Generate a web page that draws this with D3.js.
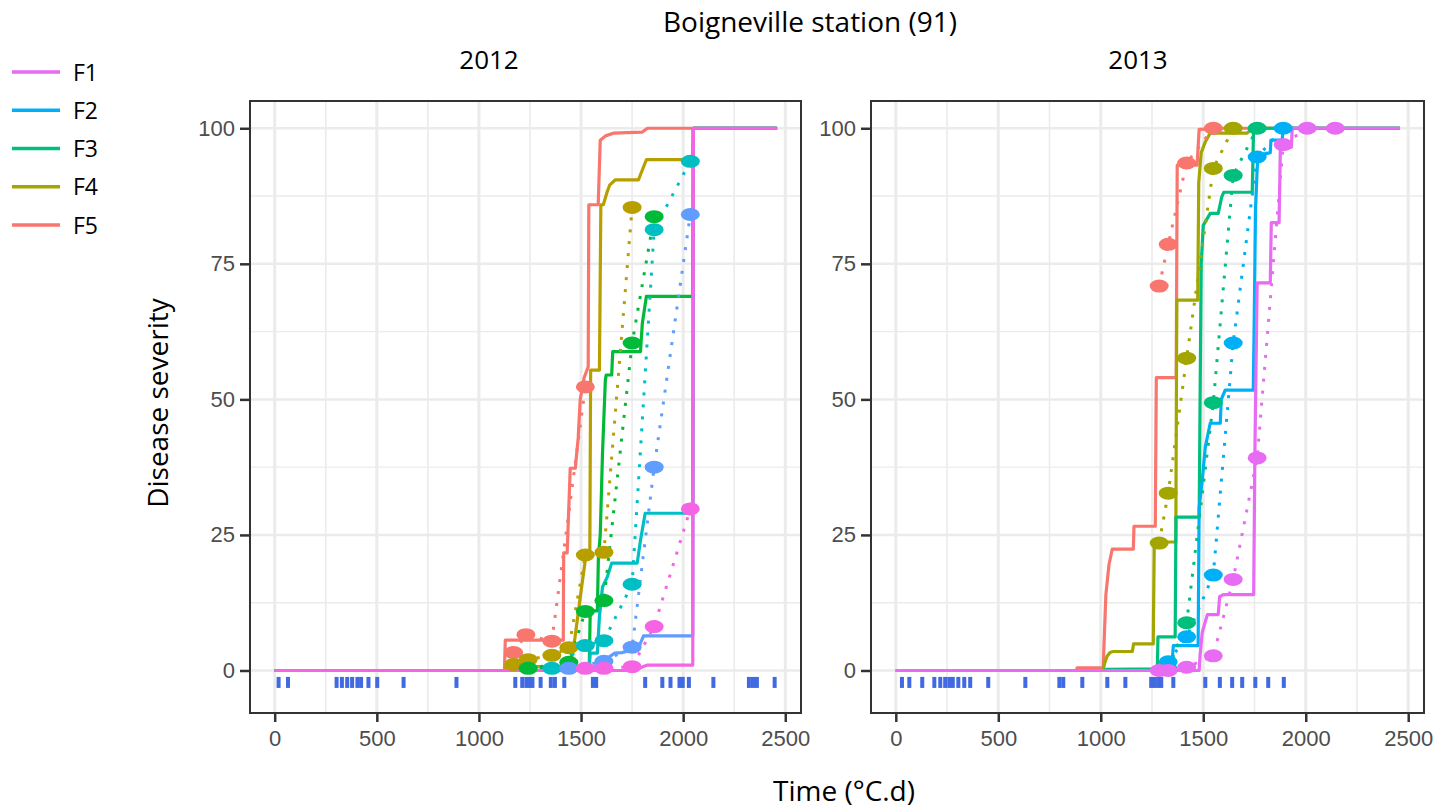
<!DOCTYPE html>
<html>
<head>
<meta charset="utf-8">
<script src="https://cdn.jsdelivr.net/npm/d3@7"></script>
<style>
  body { margin: 0; background: #fff; }
  .title { font-family: "Open Sans", Lato, sans-serif; fill: #000; }
  .tick text { font-family: "Liberation Sans", Arial, sans-serif; }
</style>
</head>
<body>
<svg id="chart" width="1437" height="810"></svg>
<script>
// ---- data (°C.d, severity %) ----
const years = ["2012", "2013"];
const leafLabels = ["F1", "F2", "F3", "F4", "F5"];
const legendColors = ["#E76BF3", "#00B0F6", "#00BF7D", "#A3A500", "#F8766D"];
const colors2012 = ["#F8766D", "#B79F00", "#00BA38", "#00BFC4", "#619CFF", "#F564E3"];
const colors2013 = ["#F8766D", "#A3A500", "#00BF7D", "#00B0F6", "#E76BF3"];
const xTicks = [0, 500, 1000, 1500, 2000, 2500];
const xMinor = [250, 750, 1250, 1750, 2250];
const yTicks = [0, 25, 50, 75, 100];
const yMinor = [12.5, 37.5, 62.5, 87.5];

// simulated (solid) curves, 2012
const sim12a = [[0,0],[1125,0],[1129,5.6],[1413,5.6],[1415,21.7],[1432,21.7],[1447,37.3],[1472,37.3],[1486,42.9],[1496,50],[1515,54],[1535,56],[1538,85.9],[1584,85.9],[1594,97.8],[1620,98.6],[1658,99.1],[1800,99.3],[1825,100],[2460,100]];
const sim12b = [[0,0],[1129,0],[1134,0.7],[1447,0.7],[1470,6],[1496,13.5],[1521,20.4],[1543,22],[1547,55.4],[1590,55.4],[1597,85.9],[1609,85.9],[1628,88.3],[1640,89.5],[1668,90.5],[1781,90.5],[1800,92.3],[1820,94.2],[2047,94.2],[2050,100],[2460,100]];
const sim12c = [[0,0],[1300,0],[1305,0.3],[1540,0.3],[1545,11],[1580,11],[1585,21],[1594,25],[1605,40],[1619,53.6],[1623,54.5],[1650,54.5],[1655,58.8],[1791,58.8],[1800,64],[1820,69],[2047,69],[2050,100],[2460,100]];
const sim12d = [[0,0],[1540,0],[1545,3.2],[1580,3.2],[1590,10],[1605,15.4],[1628,17.2],[1650,19.8],[1775,19.8],[1791,24],[1805,27],[1814,29],[2047,29],[2050,100],[2460,100]];
const sim12e = [[0,0],[1545,0],[1560,0.5],[1594,1.5],[1630,2.3],[1665,3.2],[1700,3.3],[1780,4.1],[1806,6.4],[2047,6.4],[2050,100],[2460,100]];
const sim12f = [[0,0],[1755,0],[1825,1.0],[2047,1.0],[2050,100],[2460,100]];

// observed (dotted + points), 2012
const obs12a = [[1170,3.3],[1230,6.6],[1357,5.4],[1521,52.3]];
const obs12b = [[1170,1.1],[1241,2.0],[1357,2.8],[1440,4.2],[1521,21.3],[1612,21.8],[1750,85.4]];
const obs12c = [[1241,0.4],[1440,1.5],[1521,10.9],[1612,12.9],[1750,60.4],[1858,83.7]];
const obs12d = [[1357,0.4],[1521,4.6],[1612,5.5],[1750,15.9],[1858,81.3],[2035,93.9]];
const obs12e = [[1440,0.4],[1612,1.7],[1750,4.3],[1858,37.5],[2035,84.1]];
const obs12f = [[1521,0.4],[1612,0.4],[1750,0.7],[1858,8.1],[2035,29.8]];

// simulated (solid) curves, 2013
const sim13a = [[0,0],[880,0],[885,0.5],[1012,0.5],[1016,5],[1025,14],[1040,19.5],[1056,22.4],[1159,22.4],[1162,26.6],[1266,26.6],[1271,54],[1368,54],[1373,93.2],[1470,93.2],[1480,99.8],[1600,100],[2460,100]];
const sim13b = [[0,0],[1012,0],[1018,1.2],[1030,2.6],[1045,3.3],[1061,3.5],[1154,3.5],[1160,4.9],[1256,4.9],[1261,23.7],[1366,23.7],[1371,68.3],[1473,68.3],[1478,90],[1490,95.5],[1510,97.5],[1534,99.1],[1714,99.1],[1740,100],[2460,100]];
const sim13c = [[0,0],[1012,0],[1030,0.2],[1276,0.3],[1279,6.2],[1363,6.2],[1367,28.3],[1480,28.3],[1485,52],[1490,75],[1500,82.1],[1534,84.3],[1573,84.3],[1590,87.3],[1600,88.2],[1739,88.2],[1745,99.1],[1760,100],[2460,100]];
const sim13d = [[0,0],[1340,0],[1348,1.5],[1354,4.6],[1475,4.6],[1480,30],[1495,35.1],[1510,41.2],[1524,43.8],[1534,45.6],[1583,45.6],[1588,50],[1607,51.7],[1744,51.7],[1748,62.8],[1755,85],[1763,92.5],[1768,95],[1827,95.5],[1830,97.8],[1885,97.8],[1890,100],[2460,100]];
const sim13e = [[0,0],[1480,0],[1485,3],[1495,7],[1520,10.3],[1573,10.3],[1580,13.6],[1598,14],[1746,14],[1752,40],[1763,71.5],[1827,71.5],[1832,82.6],[1870,82.6],[1876,96],[1930,96.5],[1934,100],[2460,100]];

// observed (dotted + points), 2013
const obs13a = [[1285,70.9],[1329,78.6],[1419,93.6],[1549,100]];
const obs13b = [[1285,23.5],[1329,32.7],[1419,57.6],[1549,92.6],[1646,100]];
const obs13c = [[1329,0.3],[1419,8.8],[1549,49.4],[1646,91.3],[1763,100]];
const obs13d = [[1329,1.6],[1419,6.2],[1549,17.6],[1646,60.4],[1763,94.7],[1890,100]];
const obs13e = [[1285,0],[1329,0],[1419,0.6],[1549,2.7],[1646,16.8],[1763,39.2],[1890,97],[2007,100],[2144,100]];

// rain / event rug
const rug2012 = [19,65,303,329,355,379,405,423,459,502,631,890,1178,1212,1232,1248,1262,1302,1352,1372,1418,1558,1574,1814,1898,1938,1982,1998,2028,2148,2322,2342,2361,2448];
const rug2013 = [30,66,129,188,217,241,261,278,305,334,363,451,632,798,817,910,1032,1120,1246,1263,1280,1295,1354,1510,1581,1641,1690,1754,1817,1893];

// ---- layout ----
const svg = d3.select("#chart");
const yTop = 101, yBot = 713;
const panels = [
  { year: years[0], x0: 250, x1: 801, stripX: 489, colors: colors2012,
    sim: [sim12a, sim12b, sim12c, sim12d, sim12e, sim12f],
    obs: [obs12a, obs12b, obs12c, obs12d, obs12e, obs12f], rug: rug2012 },
  { year: years[1], x0: 871, x1: 1424, stripX: 1138, colors: colors2013,
    sim: [sim13a, sim13b, sim13c, sim13d, sim13e],
    obs: [obs13a, obs13b, obs13c, obs13d, obs13e], rug: rug2013 }
];

function drawPanel(p, i) {
  const x = d3.scaleLinear().domain([-121, 2577]).range([p.x0, p.x1]);
  const y = d3.scaleLinear().domain([-7.84, 105.03]).range([yBot, yTop]);
  const g = svg.append("g");

  const clipId = "clip" + i;
  svg.append("clipPath").attr("id", clipId)
    .append("rect")
    .attr("x", p.x0).attr("y", yTop)
    .attr("width", p.x1 - p.x0).attr("height", yBot - yTop);

  const grid = g.append("g").attr("clip-path", `url(#${clipId})`);
  grid.selectAll(".vminor").data(xMinor).join("line")
    .attr("x1", d => x(d)).attr("x2", d => x(d))
    .attr("y1", yTop).attr("y2", yBot)
    .attr("stroke", "#EBEBEB").attr("stroke-width", 1.6);
  grid.selectAll(".hminor").data(yMinor).join("line")
    .attr("y1", d => y(d)).attr("y2", d => y(d))
    .attr("x1", p.x0).attr("x2", p.x1)
    .attr("stroke", "#EBEBEB").attr("stroke-width", 1.4);
  grid.selectAll(".vmajor").data(xTicks).join("line")
    .attr("x1", d => x(d)).attr("x2", d => x(d))
    .attr("y1", yTop).attr("y2", yBot)
    .attr("stroke", "#EBEBEB").attr("stroke-width", 3);
  grid.selectAll(".hmajor").data(yTicks).join("line")
    .attr("y1", d => y(d)).attr("y2", d => y(d))
    .attr("x1", p.x0).attr("x2", p.x1)
    .attr("stroke", "#EBEBEB").attr("stroke-width", 2.5);

  const plot = g.append("g").attr("clip-path", `url(#${clipId})`);

  // rug
  plot.selectAll(".rug").data(p.rug).join("rect")
    .attr("x", d => x(d) - 2).attr("y", y(-2.2) - 5.5)
    .attr("width", 4).attr("height", 11)
    .attr("fill", "#4169E1");

  const line = d3.line().x(d => x(d[0])).y(d => y(d[1]));

  // simulated curves
  plot.selectAll(".sim").data(p.sim).join("path")
    .attr("d", line)
    .attr("fill", "none")
    .attr("stroke", (d, k) => p.colors[k])
    .attr("stroke-width", 3.2)
    .attr("stroke-linejoin", "round");

  // observed, dotted
  plot.selectAll(".obsline").data(p.obs).join("path")
    .attr("d", line)
    .attr("fill", "none")
    .attr("stroke", (d, k) => p.colors[k])
    .attr("stroke-width", 3)
    .attr("stroke-dasharray", "3 9");

  // observed points
  p.obs.forEach((series, k) => {
    plot.selectAll(".pt" + k).data(series).join("ellipse")
      .attr("cx", d => x(d[0])).attr("cy", d => y(d[1]))
      .attr("rx", 9.5).attr("ry", 6.5)
      .attr("fill", p.colors[k]);
  });

  // border
  g.append("rect")
    .attr("x", p.x0).attr("y", yTop)
    .attr("width", p.x1 - p.x0).attr("height", yBot - yTop)
    .attr("fill", "none").attr("stroke", "#333").attr("stroke-width", 2);

  const styleAxis = a => {
    a.select(".domain").remove();
    a.selectAll("line").attr("stroke", "#333").attr("stroke-width", 2.5);
    a.selectAll("text")
      .style("font-family", "'Liberation Sans', Arial, sans-serif")
      .style("font-size", "22px")
      .attr("fill", "#4D4D4D");
  };

  g.append("g")
    .attr("transform", `translate(${p.x0},0)`)
    .call(d3.axisLeft(y).tickValues(yTicks).tickFormat(d3.format("d")).tickSize(10).tickPadding(5))
    .call(styleAxis);

  g.append("g")
    .attr("transform", `translate(0,${yBot})`)
    .call(d3.axisBottom(x).tickValues(xTicks).tickFormat(d3.format("d")).tickSize(9).tickPadding(8))
    .call(styleAxis);

  // strip label
  svg.append("text").attr("class", "title")
    .attr("x", p.stripX).attr("y", 69)
    .attr("text-anchor", "middle")
    .attr("font-size", 26)
    .text(p.year);
}

panels.forEach(drawPanel);

// titles
svg.append("text").attr("class", "title")
  .attr("x", 810).attr("y", 32)
  .attr("text-anchor", "middle").attr("font-size", 28)
  .text("Boigneville station (91)");

svg.append("text").attr("class", "title")
  .attr("x", 844).attr("y", 801)
  .attr("text-anchor", "middle").attr("font-size", 28)
  .text("Time (°C.d)");

svg.append("text").attr("class", "title")
  .attr("transform", "translate(168,403) rotate(-90)")
  .attr("text-anchor", "middle").attr("font-size", 28)
  .text("Disease severity");

// legend
const legend = svg.append("g");
const legendY = d3.scalePoint().domain(leafLabels).range([72, 225]);
legend.selectAll("line").data(leafLabels).join("line")
  .attr("x1", 12).attr("x2", 60)
  .attr("y1", d => legendY(d)).attr("y2", d => legendY(d))
  .attr("stroke", (d, k) => legendColors[k])
  .attr("stroke-width", 3.5);
legend.selectAll("text").data(leafLabels).join("text")
  .attr("class", "title")
  .attr("x", 73).attr("y", d => legendY(d) + 8.5)
  .attr("font-size", 23)
  .text(d => d);
</script>
</body>
</html>
